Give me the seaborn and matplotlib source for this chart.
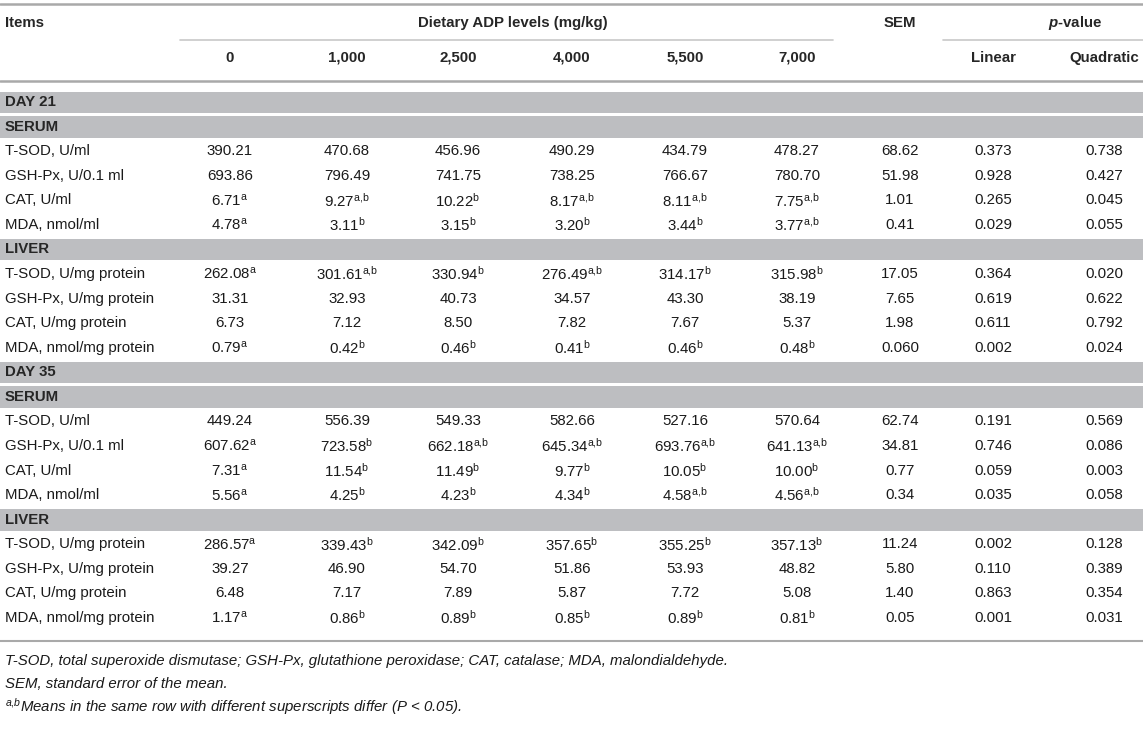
import matplotlib
matplotlib.use("Agg")
import matplotlib.pyplot as plt
import seaborn as sns

# table content
levels = ["0", "1,000", "2,500", "4,000", "5,500", "7,000"]
serum_items = ["T-SOD, U/ml", "GSH-Px, U/0.1 ml", "CAT, U/ml", "MDA, nmol/ml"]
liver_items = ["T-SOD, U/mg protein", "GSH-Px, U/mg protein", "CAT, U/mg protein", "MDA, nmol/mg protein"]

d21_serum_vals = [["390.21", "470.68", "456.96", "490.29", "434.79", "478.27"],
                  ["693.86", "796.49", "741.75", "738.25", "766.67", "780.70"],
                  ["6.71", "9.27", "10.22", "8.17", "8.11", "7.75"],
                  ["4.78", "3.11", "3.15", "3.20", "3.44", "3.77"]]
d21_serum_sup = [["", "", "", "", "", ""],
                 ["", "", "", "", "", ""],
                 ["a", "a,b", "b", "a,b", "a,b", "a,b"],
                 ["a", "b", "b", "b", "b", "a,b"]]
d21_serum_sem = ["68.62", "51.98", "1.01", "0.41"]
d21_serum_lin = ["0.373", "0.928", "0.265", "0.029"]
d21_serum_quad = ["0.738", "0.427", "0.045", "0.055"]

d21_liver_vals = [["262.08", "301.61", "330.94", "276.49", "314.17", "315.98"],
                  ["31.31", "32.93", "40.73", "34.57", "43.30", "38.19"],
                  ["6.73", "7.12", "8.50", "7.82", "7.67", "5.37"],
                  ["0.79", "0.42", "0.46", "0.41", "0.46", "0.48"]]
d21_liver_sup = [["a", "a,b", "b", "a,b", "b", "b"],
                 ["", "", "", "", "", ""],
                 ["", "", "", "", "", ""],
                 ["a", "b", "b", "b", "b", "b"]]
d21_liver_sem = ["17.05", "7.65", "1.98", "0.060"]
d21_liver_lin = ["0.364", "0.619", "0.611", "0.002"]
d21_liver_quad = ["0.020", "0.622", "0.792", "0.024"]

d35_serum_vals = [["449.24", "556.39", "549.33", "582.66", "527.16", "570.64"],
                  ["607.62", "723.58", "662.18", "645.34", "693.76", "641.13"],
                  ["7.31", "11.54", "11.49", "9.77", "10.05", "10.00"],
                  ["5.56", "4.25", "4.23", "4.34", "4.58", "4.56"]]
d35_serum_sup = [["", "", "", "", "", ""],
                 ["a", "b", "a,b", "a,b", "a,b", "a,b"],
                 ["a", "b", "b", "b", "b", "b"],
                 ["a", "b", "b", "b", "a,b", "a,b"]]
d35_serum_sem = ["62.74", "34.81", "0.77", "0.34"]
d35_serum_lin = ["0.191", "0.746", "0.059", "0.035"]
d35_serum_quad = ["0.569", "0.086", "0.003", "0.058"]

d35_liver_vals = [["286.57", "339.43", "342.09", "357.65", "355.25", "357.13"],
                  ["39.27", "46.90", "54.70", "51.86", "53.93", "48.82"],
                  ["6.48", "7.17", "7.89", "5.87", "7.72", "5.08"],
                  ["1.17", "0.86", "0.89", "0.85", "0.89", "0.81"]]
d35_liver_sup = [["a", "b", "b", "b", "b", "b"],
                 ["", "", "", "", "", ""],
                 ["", "", "", "", "", ""],
                 ["a", "b", "b", "b", "b", "b"]]
d35_liver_sem = ["11.24", "5.80", "1.40", "0.05"]
d35_liver_lin = ["0.002", "0.110", "0.863", "0.001"]
d35_liver_quad = ["0.128", "0.389", "0.354", "0.031"]

footnotes = ["T-SOD, total superoxide dismutase; GSH-Px, glutathione peroxidase; CAT, catalase; MDA, malondialdehyde.",
             "SEM, standard error of the mean.",
             r"$^{\mathit{a{,}b}}$Means in the same row with different superscripts differ (P < 0.05)."]

sns.set_theme(style="white")
plt.rcParams['font.family'] = ['Liberation Sans', 'DejaVu Sans']
plt.rcParams['mathtext.fontset'] = 'custom'
plt.rcParams['mathtext.rm'] = 'Liberation Sans'
plt.rcParams['mathtext.it'] = 'Liberation Sans:italic'
plt.rcParams['mathtext.bf'] = 'Liberation Sans:bold'
plt.rcParams['mathtext.sf'] = 'Liberation Sans:bold:italic'

# build row list: ("band", label) or ("data", item, vals, sups, sem, lin, quad)
rows = []
for day, blocks in [("DAY 21", [("SERUM", serum_items, d21_serum_vals, d21_serum_sup, d21_serum_sem, d21_serum_lin, d21_serum_quad),
                                ("LIVER", liver_items, d21_liver_vals, d21_liver_sup, d21_liver_sem, d21_liver_lin, d21_liver_quad)]),
                    ("DAY 35", [("SERUM", serum_items, d35_serum_vals, d35_serum_sup, d35_serum_sem, d35_serum_lin, d35_serum_quad),
                                ("LIVER", liver_items, d35_liver_vals, d35_liver_sup, d35_liver_sem, d35_liver_lin, d35_liver_quad)])]:
    rows.append(("band", day))
    for tissue, items, vals, sups, sem, lin, quad in blocks:
        rows.append(("band", tissue))
        for i in range(4):
            rows.append(("data", items[i], vals[i], sups[i], sem[i], lin[i], quad[i]))

fig = plt.figure(figsize=(11.43, 7.47), dpi=100)
ax = fig.add_axes([0, 0, 1, 1])
ax.set_xlim(0, 1143)
ax.set_ylim(747, 0)
ax.axis('off')

fs = 10.8
col_x = [230, 347, 458, 572, 685, 797]
sem_x, lin_x, quad_x = 900, 993, 1104
line_c = '#a9a9a9'
band_c = '#bdbec1'
txt_c = '#1a1a1a'

# header
ax.plot([0, 1143], [4, 4], color=line_c, lw=1.8)
ax.text(5, 23, "Items", fontsize=fs, fontweight='bold', va='center', ha='left')
ax.text(513, 23, "Dietary ADP levels (mg/kg)", fontsize=fs, fontweight='bold', va='center', ha='center')
ax.plot([180, 833], [40, 40], color='#c8c8c8', lw=1.2)
ax.text(sem_x, 23, "SEM", fontsize=fs, fontweight='bold', va='center', ha='center')
ax.text(1075, 23, r"$\mathsf{p}$-value", fontsize=fs, fontweight='bold', va='center', ha='center')
ax.plot([943, 1143], [40, 40], color='#c8c8c8', lw=1.2)
for x, lab in zip(col_x, levels):
    ax.text(x, 58, lab, fontsize=fs, fontweight='bold', va='center', ha='center')
ax.text(lin_x, 58, "Linear", fontsize=fs, fontweight='bold', va='center', ha='center')
ax.text(quad_x, 58, "Quadratic", fontsize=fs, fontweight='bold', va='center', ha='center')
ax.plot([0, 1143], [81, 81], color=line_c, lw=1.8)

# body
y0, pitch = 102, 24.57
for k, row in enumerate(rows):
    y = y0 + k * pitch
    if row[0] == "band":
        ax.add_patch(plt.Rectangle((0, y - 10.5), 1143, 21.5, color=band_c, lw=0))
        ax.text(5, y, row[1], fontsize=fs, fontweight='bold', va='center', ha='left')
    else:
        _, item, vals, sups, sem, lin, quad = row
        ax.text(5, y, item, fontsize=fs, va='center', ha='left', color=txt_c)
        for x, v, s in zip(col_x, vals, sups):
            lab = v + (r"$^{\mathrm{%s}}$" % s.replace(",", "{,}") if s else "")
            ax.text(x, y, lab, fontsize=fs, va='center', ha='center', color=txt_c)
        ax.text(sem_x, y, sem, fontsize=fs, va='center', ha='center', color=txt_c)
        ax.text(lin_x, y, lin, fontsize=fs, va='center', ha='center', color=txt_c)
        ax.text(quad_x, y, quad, fontsize=fs, va='center', ha='center', color=txt_c)

ax.plot([0, 1143], [641, 641], color=line_c, lw=1.5)

# footnotes
for i, note in enumerate(footnotes):
    ax.text(5, 661 + i * 23, note, fontsize=fs, style='italic', va='center', ha='left', color=txt_c)

plt.savefig("out.png", dpi=100)
